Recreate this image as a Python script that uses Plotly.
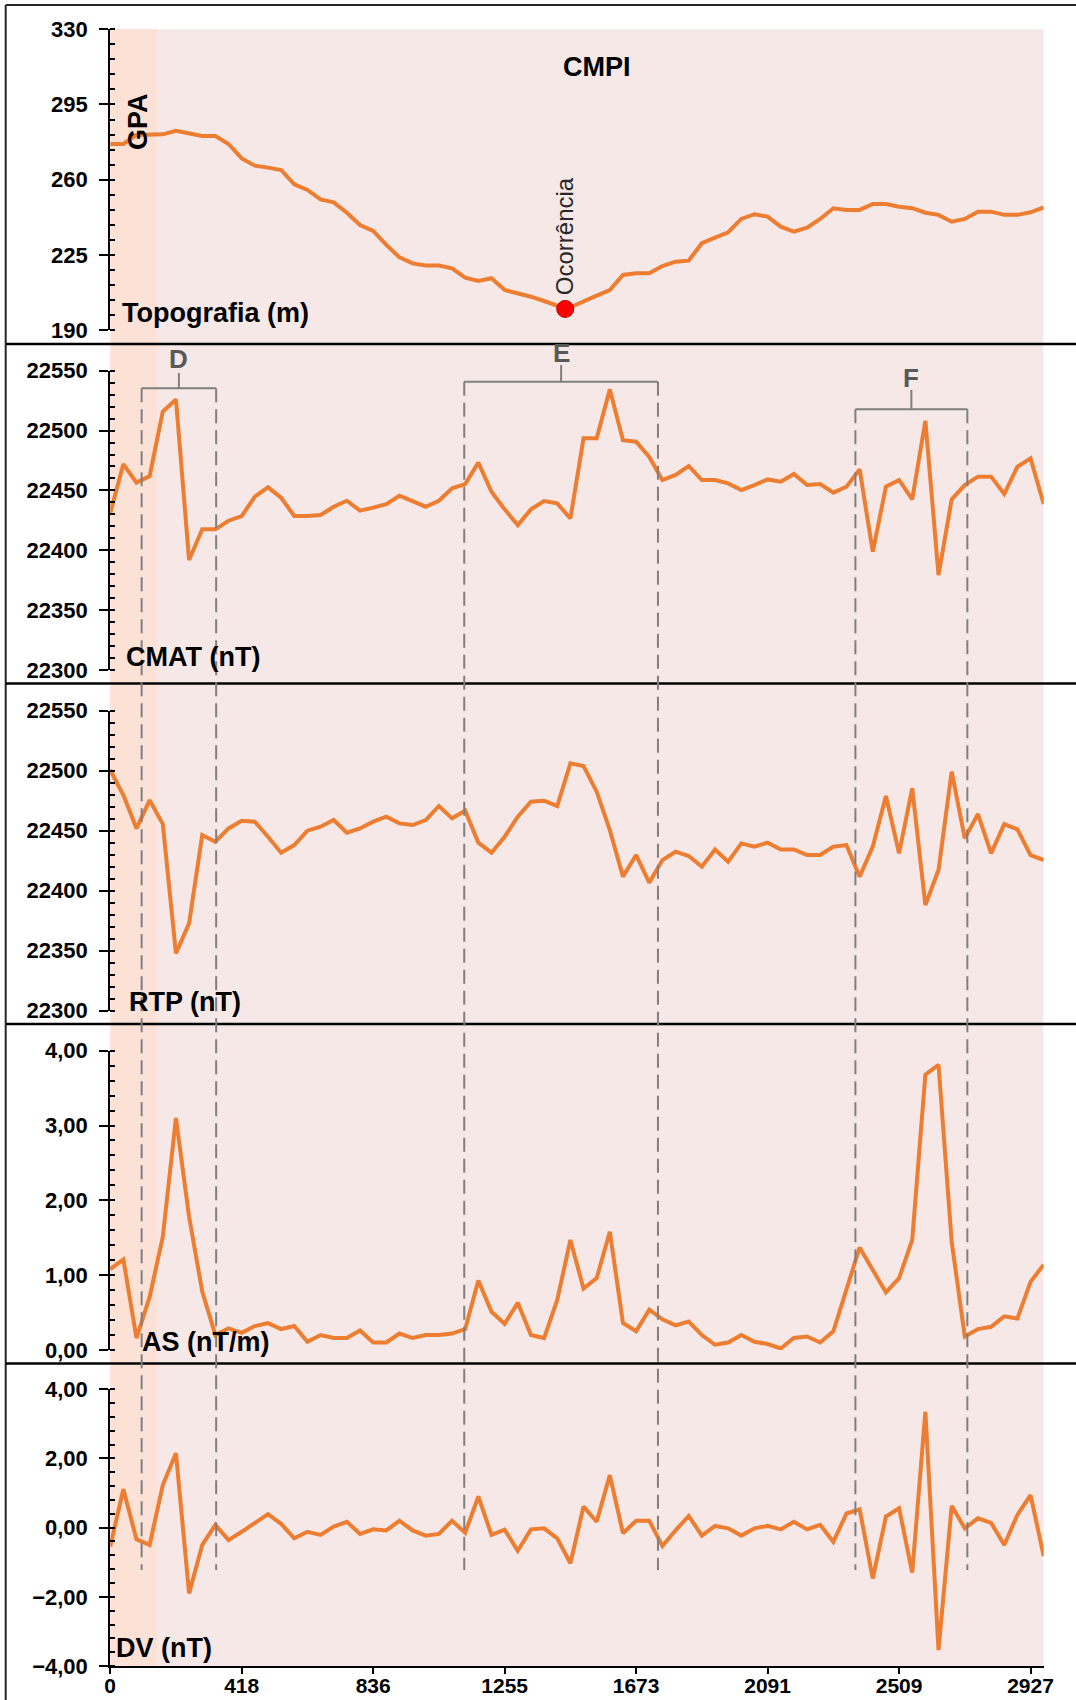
import plotly.graph_objects as go

W, H = 1076, 1700
N = 72
STEP = 2927 / 70  # station spacing (m)
dist = [i * STEP for i in range(N)]

tick_labels = ["0", "418", "836", "1255", "1673", "2091", "2509", "2927"]
tick_idx = [0, 10, 20, 30, 40, 50, 60, 70]

topo = [276.6, 276.6, 280.8, 281.1, 281.1, 282.7, 281.6, 280.3, 280.3, 276.6,
        269.9, 266.5, 265.6, 264.5, 257.8, 255.2, 250.8, 249.4, 244.6, 238.9,
        236.1, 229.6, 223.8, 221.0, 220.0, 220.0, 218.7, 214.4, 212.8, 214.1,
        208.6, 207.1, 205.5, 203.5, 201.3, 200.6, 203.5, 206.0, 208.6, 215.6,
        216.4, 216.4, 219.8, 221.8, 222.3, 230.4, 233.0, 235.5, 241.7, 243.9,
        242.8, 238.1, 235.8, 237.7, 241.7, 246.7, 245.9, 245.9, 248.7, 248.7,
        247.4, 246.7, 244.6, 243.6, 240.4, 241.7, 245.1, 245.1, 243.6, 243.6,
        244.8, 247.1]

cmat = [22430.8, 22472.0, 22456.5, 22462.0, 22515.8, 22526.0, 22391.9, 22417.5, 22417.5, 22424.7,
        22428.6, 22444.8, 22452.6, 22443.9, 22428.6, 22428.6, 22429.5, 22436.4, 22441.4, 22433.1,
        22435.6, 22438.6, 22445.6, 22440.6, 22436.4, 22441.4, 22451.7, 22455.3, 22473.2, 22448.9,
        22434.2, 22421.1, 22434.2, 22441.1, 22439.2, 22426.5, 22493.5, 22493.5, 22534.4, 22492.0,
        22490.7, 22478.0, 22458.7, 22462.9, 22470.4, 22458.7, 22458.7, 22455.9, 22450.3, 22454.5,
        22459.2, 22457.3, 22463.7, 22454.5, 22455.3, 22448.1, 22453.1, 22467.6, 22398.8, 22453.1,
        22458.7, 22442.5, 22508.2, 22379.3, 22442.5, 22454.5, 22461.5, 22461.5, 22447.0, 22469.8,
        22476.8, 22438.6]

rtp = [22500.6, 22479.7, 22451.9, 22475.5, 22455.5, 22347.8, 22372.8, 22446.4, 22440.8, 22451.9,
       22458.3, 22457.5, 22445.0, 22431.7, 22438.0, 22450.0, 22453.3, 22458.9, 22448.3, 22451.9,
       22457.5, 22461.7, 22456.1, 22454.7, 22458.9, 22470.6, 22460.3, 22466.7, 22440.0, 22431.7,
       22445.0, 22461.7, 22474.2, 22475.0, 22470.6, 22506.1, 22503.9, 22482.5, 22450.5, 22411.7,
       22429.7, 22406.7, 22425.5, 22432.5, 22428.9, 22420.0, 22434.4, 22424.2, 22439.4, 22436.7,
       22440.0, 22434.4, 22434.4, 22429.7, 22429.7, 22436.7, 22438.0, 22411.7, 22436.7, 22478.9,
       22431.1, 22485.3, 22388.1, 22417.2, 22499.2, 22443.6, 22463.9, 22431.1, 22455.5, 22451.1,
       22429.7, 22425.5]

as_vals = [1.08, 1.21, 0.16, 0.71, 1.51, 3.10, 1.78, 0.78, 0.20, 0.29,
           0.23, 0.32, 0.36, 0.28, 0.32, 0.11, 0.20, 0.16, 0.16, 0.26,
           0.10, 0.10, 0.22, 0.16, 0.20, 0.20, 0.22, 0.28, 0.93, 0.51,
           0.35, 0.63, 0.20, 0.16, 0.67, 1.47, 0.82, 0.96, 1.58, 0.36,
           0.25, 0.54, 0.41, 0.33, 0.38, 0.20, 0.07, 0.10, 0.20, 0.11,
           0.08, 0.02, 0.16, 0.18, 0.10, 0.25, 0.81, 1.37, 1.07, 0.77,
           0.96, 1.47, 3.68, 3.81, 1.45, 0.18, 0.28, 0.31, 0.45, 0.42,
           0.91, 1.14]

dv = [-0.55, 1.11, -0.34, -0.50, 1.23, 2.15, -1.90, -0.50, 0.08, -0.36,
      -0.12, 0.13, 0.39, 0.11, -0.31, -0.12, -0.21, 0.03, 0.17, -0.18,
      -0.05, -0.08, 0.20, -0.08, -0.23, -0.18, 0.20, -0.15, 0.90, -0.21,
      -0.06, -0.67, -0.05, -0.02, -0.31, -1.03, 0.61, 0.17, 1.52, -0.16,
      0.20, 0.20, -0.53, -0.08, 0.34, -0.23, 0.05, -0.02, -0.23, -0.02,
      0.05, -0.05, 0.17, -0.05, 0.08, -0.41, 0.41, 0.53, -1.47, 0.32,
      0.56, -1.30, 3.35, -3.54, 0.63, -0.02, 0.27, 0.14, -0.50, 0.37,
      0.94, -0.82]

occ_dist = 1447
occ_elev = 199.8
gpa_end = 149
brackets = [("D", 100, 337), ("E", 1126, 1742), ("F", 2370, 2726)]

ORANGE = "#ED7D31"
FONT = "Liberation Sans, Arial, sans-serif"


def py(p):
    return 1 - p / H


def px(p):
    return p / W


fig = go.Figure()
series = [(topo, "y"), (cmat, "y2"), (rtp, "y3"), (as_vals, "y4"), (dv, "y5")]
for vals, ya in series:
    fig.add_trace(go.Scatter(x=dist, y=vals, xaxis="x", yaxis=ya, mode="lines",
                             line=dict(color=ORANGE, width=4), showlegend=False,
                             hoverinfo="skip"))
fig.add_trace(go.Scatter(x=[occ_dist], y=[occ_elev], xaxis="x", yaxis="y", mode="markers",
                         marker=dict(color="#FF0000", size=17, line=dict(color="#C00000", width=1)),
                         showlegend=False, hoverinfo="skip"))

tickfont = dict(family=FONT, size=22, color="black", weight="bold")
xtickfont = dict(family=FONT, size=21, color="black", weight="bold")


def yax(dom_top_px, dom_bot_px, rng, dtick, tick0, minor_dtick, fmt):
    return dict(domain=[py(dom_bot_px), py(dom_top_px)], range=rng, autorange=False,
                anchor="x", automargin=False, showgrid=False, zeroline=False, showline=True,
                linecolor="black", linewidth=2, ticks="outside", ticklen=9,
                tickwidth=2, tickcolor="black", dtick=dtick, tick0=tick0,
                tickformat=fmt, tickfont=tickfont, ticklabelstandoff=7,
                minor=dict(dtick=minor_dtick, tick0=tick0, ticks="inside", ticklen=5,
                           tickwidth=1.5, tickcolor="black", showgrid=False))


layout = dict(
    width=W, height=H, autosize=False,
    margin=dict(l=0, r=0, t=0, b=0, pad=0),
    paper_bgcolor="white", plot_bgcolor="rgba(0,0,0,0)",
    separators=",.",
    showlegend=False,
    xaxis=dict(domain=[px(110.2), px(1043.7)], range=[0, 71 * STEP], autorange=False,
               anchor="y5", automargin=False, showgrid=False, zeroline=False, showline=True,
               linecolor="black", linewidth=2, ticks="outside", ticklen=6,
               tickwidth=2, tickcolor="black", tickmode="array",
               tickvals=[dist[i] for i in tick_idx], ticktext=tick_labels,
               tickfont=xtickfont, ticklabelstandoff=-6),
    yaxis=yax(29.3, 330, [190, 330], 35, 190, 7, "d"),
    yaxis2=yax(370.7, 670, [22300, 22550], 50, 22300, 10, "d"),
    yaxis3=yax(710.7, 1010.7, [22300, 22550], 50, 22300, 10, "d"),
    yaxis4=yax(1050.7, 1350, [0, 4], 1, 0, 0.2, ".2f"),
    yaxis5=yax(1389.3, 1666, [-4, 4], 2, -4, 0.4, ".2f"),
)
fig.update_layout(**layout)

shapes = []
# shaded background and GPA band
shapes.append(dict(type="rect", xref="x", yref="paper", x0=0, x1=71 * STEP,
                   y0=py(1666), y1=py(29.3), fillcolor="#F6E8E7", line=dict(width=0),
                   layer="below"))
shapes.append(dict(type="rect", xref="x", yref="paper", x0=0, x1=gpa_end,
                   y0=py(1666), y1=py(29.3), fillcolor="#FCE1D6", line=dict(width=0),
                   layer="below"))
# frame and panel separators
FRAME = "#262626"
shapes.append(dict(type="line", xref="paper", yref="paper", x0=px(5.7), x1=1,
                   y0=py(5), y1=py(5), line=dict(color=FRAME, width=2)))
shapes.append(dict(type="line", xref="paper", yref="paper", x0=px(5.7), x1=px(5.7),
                   y0=py(5), y1=0, line=dict(color=FRAME, width=2)))
for yy in [344, 683.5, 1024, 1363.5]:
    shapes.append(dict(type="line", xref="paper", yref="paper", x0=px(5.7), x1=1,
                       y0=py(yy), y1=py(yy), line=dict(color="black", width=2.5)))

GRAY = "#7F7F7F"
br_y = {"D": 388.3, "E": 381.7, "F": 409.3}
br_tick = {"D": 373, "E": 365, "F": 390}
br_lab = {"D": 359, "E": 353, "F": 378}
annotations = []
for lab, a, b in brackets:
    yb = br_y[lab]
    shapes.append(dict(type="line", xref="x", yref="paper", x0=a, x1=b,
                       y0=py(yb), y1=py(yb), line=dict(color=GRAY, width=2)))
    mid = (a + b) / 2
    shapes.append(dict(type="line", xref="x", yref="paper", x0=mid, x1=mid,
                       y0=py(yb), y1=py(br_tick[lab]), line=dict(color=GRAY, width=2)))
    for xv in (a, b):
        shapes.append(dict(type="line", xref="x", yref="paper", x0=xv, x1=xv,
                           y0=py(yb), y1=py(1570),
                           line=dict(color=GRAY, width=2, dash="14px,7px")))
    annotations.append(dict(text=lab, xref="x", yref="paper", x=mid, y=py(br_lab[lab]),
                            xanchor="center", yanchor="middle", showarrow=False,
                            font=dict(family=FONT, size=26, color="#595959", weight="bold")))

labfont = dict(family=FONT, size=27, color="black", weight="bold")
for txt, xl, yc in [("Topografia (m)", 120, 313), ("CMAT (nT)", 123.5, 657),
                    ("RTP (nT)", 127, 1001.7), ("AS (nT/m)", 140, 1341.7),
                    ("DV (nT)", 114, 1648.3)]:
    annotations.append(dict(text=txt, xref="paper", yref="paper", x=px(xl), y=py(yc),
                            xanchor="left", yanchor="middle", showarrow=False, font=labfont))
annotations.append(dict(text="CMPI", xref="paper", yref="paper", x=px(597), y=py(67),
                        xanchor="center", yanchor="middle", showarrow=False, font=labfont))
annotations.append(dict(text="GPA", xref="paper", yref="paper", x=px(138), y=py(122),
                        xanchor="center", yanchor="middle", showarrow=False, textangle=-90,
                        font=dict(family=FONT, size=27, color="black", weight="bold")))
annotations.append(dict(text="Ocorrência", xref="x", yref="paper", x=occ_dist, y=py(236),
                        xanchor="center", yanchor="middle", showarrow=False, textangle=-90,
                        font=dict(family=FONT, size=24, color="#262626")))

fig.update_layout(shapes=shapes, annotations=annotations)
fig.write_html("out.html", config={"displayModeBar": False},
               post_script="document.body.style.margin='0';document.body.style.padding='0';")
